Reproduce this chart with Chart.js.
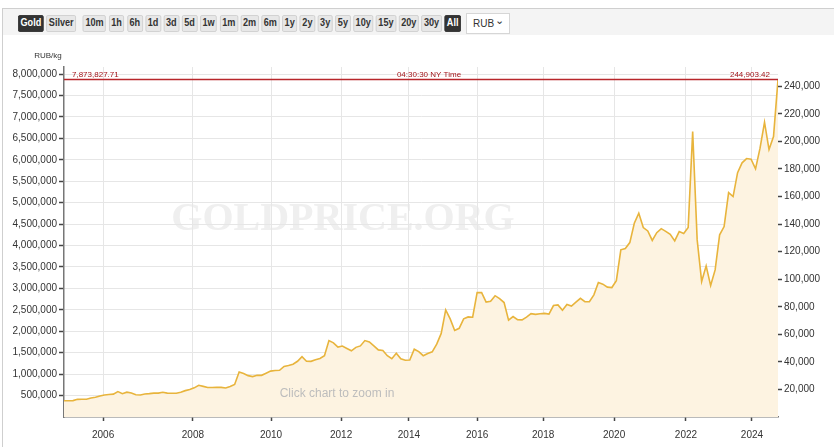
<!DOCTYPE html>
<html>
<head>
<meta charset="utf-8">
<script src="https://cdn.jsdelivr.net/npm/chart.js"></script>
<style>
  body { margin: 0; background: #fff; }
  #wrap { position: relative; width: 834px; height: 447px; overflow: hidden; }
  #frame { position: absolute; left: 2px; top: 8px; width: 900px; height: 460px;
           border-left: 1px solid #cfcfcf; border-top: 1px solid #cfcfcf; }
  #bar { position: absolute; left: 3px; top: 9px; width: 900px; height: 26px; background: #f4f4f4;
         z-index: 2; }
  #buttons { position: absolute; left: 15px; top: 6px; display: flex; gap: 3.2px;
             transform: scaleX(0.828); transform-origin: 0 0; }
  #buttons span { display: inline-block; height: 15px; line-height: 15px; padding: 0 2px;
                  border: 1px solid #cfcfcf; border-radius: 2px; background: #e7e7e7; color: #333;
                  font: bold 11px 'Liberation Sans', Arial, sans-serif; }
  #buttons span.on { background: #333; border-color: #333; color: #fff; }
  #buttons span.sep { margin-left: 5px; }
  #cur { position: absolute; left: 463px; top: 4px; width: 42px; height: 19px; border: 1px solid #d6d6d6;
         background: #fff; font: 10px 'Liberation Sans', Arial, sans-serif; color: #333; line-height: 19px; }
  #cur b { font-weight: normal; position: absolute; left: 6px; }
  #cur i { font-style: normal; position: absolute; right: 5px; top: -3px; font-size: 11px; }
  #chart { position: absolute; left: 0; top: 0; z-index: 1; }
</style>
</head>
<body>
<div id="wrap">
  <div id="frame"></div>
  <div id="bar">
    <div id="buttons">
      <span class="on">Gold</span><span>Silver</span><span class="sep">10m</span><span>1h</span><span>6h</span><span>1d</span><span>3d</span><span>5d</span><span>1w</span><span>1m</span><span>2m</span><span>6m</span><span>1y</span><span>2y</span><span>3y</span><span>5y</span><span>10y</span><span>15y</span><span>20y</span><span>30y</span><span class="on">All</span>
    </div>
    <div id="cur"><b>RUB</b><i>&#8964;</i></div>
  </div>
  <canvas id="chart" width="834" height="447"></canvas>
</div>
<script>
// gold price in RUB per kg, one value per point of the ordinal axis
const priceRubKg = [
  380000, 380000, 383000, 412000, 415000, 415000, 445000, 460000, 490000, 512000,
  524000, 533000, 593000, 545000, 580000, 560000, 520000, 515000, 537000, 545000,
  557000, 557000, 577000, 558000, 555000, 555000, 578000, 615000, 640000, 680000,
  741000, 715000, 687000, 687000, 691000, 691000, 677000, 712000, 760000, 1052000,
  1015000, 965000, 943000, 975000, 972000, 1020000, 1070000, 1085000, 1091000, 1180000,
  1200000, 1230000, 1300000, 1409000, 1300000, 1298000, 1338000, 1365000, 1430000, 1783000,
  1730000, 1630000, 1655000, 1600000, 1545000, 1625000, 1659000, 1783000, 1750000, 1660000,
  1566000, 1550000, 1430000, 1360000, 1488000, 1360000, 1325000, 1330000, 1582000, 1525000,
  1430000, 1480000, 1520000, 1700000, 1950000, 2499000, 2290000, 2020000, 2070000, 2290000,
  2335000, 2328000, 2903000, 2903000, 2680000, 2700000, 2830000, 2760000, 2670000, 2260000,
  2343000, 2270000, 2266000, 2330000, 2410000, 2395000, 2410000, 2418000, 2400000, 2600000,
  2616000, 2490000, 2625000, 2590000, 2680000, 2770000, 2690000, 2690000, 2850000, 3136000,
  3100000, 3030000, 3020000, 3180000, 3900000, 3930000, 4070000, 4520000, 4755000, 4420000,
  4341000, 4120000, 4300000, 4395000, 4330000, 4260000, 4110000, 4326000, 4280000, 4420000,
  6659000, 4132000, 3160000, 3526000, 3066000, 3432000, 4250000, 4443000, 5236000, 5143000,
  5700000, 5930000, 6030000, 6015000, 5790000, 6272000, 6878000, 6240000, 6543000, 7873827.71
];

// x axis labels and where each year starts in the series (ordinal axis)
const yearLabels = ['2006', '2008', '2010', '2012', '2014', '2016', '2018', '2020', '2022', '2024'];
const yearIndex = [8.7, 28.7, 46.1, 61.7, 76.8, 92.0, 106.7, 122.5, 138.5, 153.2];

// axis ticks
const kgTicks = [500000, 1000000, 1500000, 2000000, 2500000, 3000000, 3500000, 4000000,
  4500000, 5000000, 5500000, 6000000, 6500000, 7000000, 7500000, 8000000];
const ozTicks = [20000, 40000, 60000, 80000, 100000, 120000, 140000, 160000, 180000, 200000, 220000, 240000];

const lastKg = 7873827.71;
const lastOz = 244903.42;
const ozPerKg = lastKg / lastOz;
const kgMax = 8166000;

const sans = "'Liberation Sans', Arial, sans-serif";
Chart.defaults.font.family = sans;
Chart.defaults.color = '#333';

const fmt = (v, d) => v.toLocaleString('en-US', { minimumFractionDigits: d, maximumFractionDigits: d });

const decorations = {
  id: 'decorations',
  beforeDraw(chart) {
    // watermark, under the grid
    const ctx = chart.ctx;
    ctx.save();
    ctx.fillStyle = '#efefef';
    ctx.font = "bold 40px 'Liberation Serif', 'Times New Roman', serif";
    ctx.textAlign = 'center';
    ctx.textBaseline = 'alphabetic';
    ctx.fillText('GOLDPRICE.ORG', 343, 230);
    ctx.restore();
  },
  afterDatasetsDraw(chart) {
    const ctx = chart.ctx;
    const area = chart.chartArea;
    const y = chart.scales.y.getPixelForValue(lastKg);
    ctx.save();
    ctx.fillStyle = '#bdbdbd';
    ctx.font = '12px ' + sans;
    ctx.textAlign = 'center';
    ctx.textBaseline = 'middle';
    ctx.fillText('Click chart to zoom in', 337, 394);

    ctx.strokeStyle = '#b8262b';
    ctx.lineWidth = 1.5;
    ctx.beginPath();
    ctx.moveTo(area.left, y);
    ctx.lineTo(area.right, y);
    ctx.stroke();

    ctx.fillStyle = '#a3151a';
    ctx.font = '8px ' + sans;
    ctx.textBaseline = 'alphabetic';
    ctx.textAlign = 'left';
    ctx.fillText(fmt(lastKg, 2), area.left + 8, y - 3);
    ctx.textAlign = 'center';
    ctx.fillText('04:30:30 NY Time', 429, y - 3);
    ctx.textAlign = 'right';
    ctx.fillText(fmt(lastOz, 2), area.right - 8, y - 3);

    ctx.fillStyle = '#333';
    ctx.font = '8px ' + sans;
    ctx.textAlign = 'center';
    ctx.fillText('RUB/kg', 48, 58);
    ctx.restore();
  }
};

new Chart(document.getElementById('chart'), {
  type: 'line',
  data: {
    datasets: [{
      data: priceRubKg.map((v, i) => ({ x: i, y: v })),
      borderColor: '#e8b43c',
      backgroundColor: '#fdf3e1',
      borderWidth: 1.6,
      fill: 'origin',
      pointRadius: 0,
      tension: 0
    }]
  },
  options: {
    responsive: false,
    animation: false,
    layout: { padding: { top: 67, left: 0, right: 0, bottom: 0 } },
    plugins: { legend: { display: false }, tooltip: { enabled: false } },
    scales: {
      x: {
        type: 'linear',
        min: 0,
        max: priceRubKg.length - 1,
        afterBuildTicks: s => { s.ticks = yearIndex.map(v => ({ value: v })); },
        afterFit: s => { s.height = 30; },
        ticks: { autoSkip: false, maxRotation: 0, padding: 8, font: { size: 10 },
                 callback: (v, i) => yearLabels[i] },
        grid: { color: '#e6e6e6', tickColor: '#444', tickLength: 4, tickWidth: 1.5 },
        border: { color: '#777', width: 1.5 }
      },
      y: {
        position: 'left',
        min: 0,
        max: kgMax,
        afterBuildTicks: s => { s.ticks = kgTicks.map(v => ({ value: v })); },
        afterFit: s => { s.width = 64; },
        ticks: { padding: 2, font: { size: 10 }, callback: v => fmt(v, 0) },
        grid: { color: '#e6e6e6', tickColor: '#444', tickLength: 5, tickWidth: 1.5 },
        border: { color: '#777', width: 1.5 }
      },
      y2: {
        position: 'right',
        min: 0,
        max: kgMax / ozPerKg,
        afterBuildTicks: s => { s.ticks = ozTicks.map(v => ({ value: v })); },
        afterFit: s => { s.width = 56; },
        ticks: { padding: 2, font: { size: 10 }, callback: v => fmt(v, 0) },
        grid: { drawOnChartArea: false, tickColor: '#444', tickLength: 4, tickWidth: 1.5 },
        border: { display: false }
      }
    }
  },
  plugins: [decorations]
});
</script>
</body>
</html>
